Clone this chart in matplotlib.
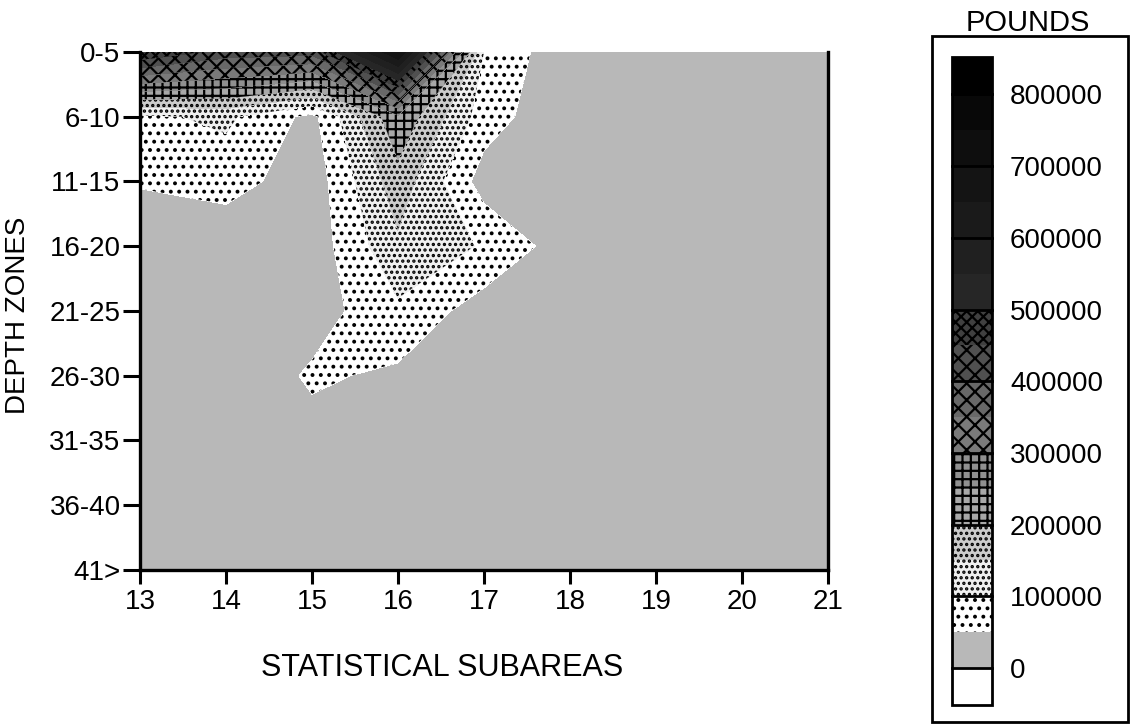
import numpy as np
import matplotlib
matplotlib.use("Agg")
import matplotlib.pyplot as plt
from matplotlib.patches import Rectangle

plt.rcParams['font.family'] = ['Liberation Sans', 'DejaVu Sans']
plt.rcParams['hatch.color'] = 'black'
plt.rcParams['hatch.linewidth'] = 1.6

subareas = [13, 14, 15, 16, 17, 18, 19, 20, 21]
depth_zones = ["0-5", "6-10", "11-15", "16-20", "21-25", "26-30", "31-35", "36-40", "41>"]

# pounds (thousands), one list per depth zone, one entry per subarea
z_0_5   = [500, 430, 420, 700, 100, 8, 6, 6, 5]
z_6_10  = [90, 110, 35, 240, 75, 5, 5, 5, 5]
z_11_15 = [55, 72, 20, 180, 27, 5, 5, 5, 5]
z_16_20 = [10, 10, 20, 140, 95, 20, 5, 5, 5]
z_21_25 = [10, 10, 25, 90, 25, 5, 5, 5, 5]
z_26_30 = [5, 5, 58, 40, 5, 5, 5, 5, 5]
z_31_35 = [5, 5, 30, 5, 5, 5, 5, 5, 5]
z_36_40 = [5, 5, 5, 5, 5, 5, 5, 5, 5]
z_41    = [5, 5, 5, 5, 5, 5, 5, 5, 5]

cbar_ticks = [0, 100000, 200000, 300000, 400000, 500000, 600000, 700000, 800000]
levels = np.arange(0, 850000, 50000)

# shading for each band: under, 16 bands of 50000, over
band_colors = ['white',
               '#b8b8b8', 'white', '#f0f0f0', '#cccccc',
               '#a8a8a8', '#909090', '#7a7a7a', '#686868',
               '#505050', '#404040', '#262626', '#202020',
               '#1a1a1a', '#141414', '#0e0e0e', '#080808',
               'black']
band_hatches = [None,
                None, '..', '...', '...',
                '++', '++', 'xx', 'xx',
                'xx', 'xxx', None, None,
                None, None, None, None,
                None]

pounds = np.array([z_0_5, z_6_10, z_11_15, z_16_20, z_21_25,
                   z_26_30, z_31_35, z_36_40, z_41]) * 1000.0
depth_idx = np.arange(len(depth_zones))

fig = plt.figure(figsize=(11.3, 7.24), dpi=100)
ax = fig.add_axes([0.1239, 0.2127, 0.6088, 0.7155])

cs = ax.contourf(subareas, depth_idx, pounds, levels=levels,
                 colors=band_colors, hatches=band_hatches, extend='both')

ax.set_xlim(13, 21)
ax.set_ylim(8, 0)
ax.set_xticks(subareas)
ax.set_yticks(depth_idx)
ax.set_yticklabels(depth_zones)
ax.tick_params(axis='y', direction='out', length=12, width=2.2, pad=2, labelsize=20)
ax.tick_params(axis='x', direction='out', length=10, width=2.2, pad=4, labelsize=20)
ax.spines['top'].set_visible(False)
for s in ['left', 'bottom', 'right']:
    ax.spines[s].set_linewidth(2.4)

fig.text(0.016, 0.565, 'DEPTH ZONES', rotation=90, ha='center', va='center', fontsize=20)
fig.text(0.391, 0.077, 'STATISTICAL SUBAREAS', ha='center', va='center', fontsize=22)

# legend box
fig.add_artist(Rectangle((0.8248, 0.0028), 0.1735, 0.9475, transform=fig.transFigure,
                         fill=False, edgecolor='black', linewidth=2))
fig.text(0.91, 0.968, 'POUNDS', ha='center', va='center', fontsize=21)

cax = fig.add_axes([0.8425, 0.026, 0.0354, 0.895])
cbar = fig.colorbar(cs, cax=cax, extendrect=True, extendfrac=0.065)
cbar.set_ticks(cbar_ticks)
cbar.set_ticklabels([str(t) for t in cbar_ticks])
cbar.ax.tick_params(length=0, pad=13, labelsize=20)
cbar.outline.set_linewidth(2)
for t in cbar_ticks:
    cbar.ax.axhline(t, color='black', linewidth=2, clip_on=False)

fig.savefig('out.png', dpi=100)
